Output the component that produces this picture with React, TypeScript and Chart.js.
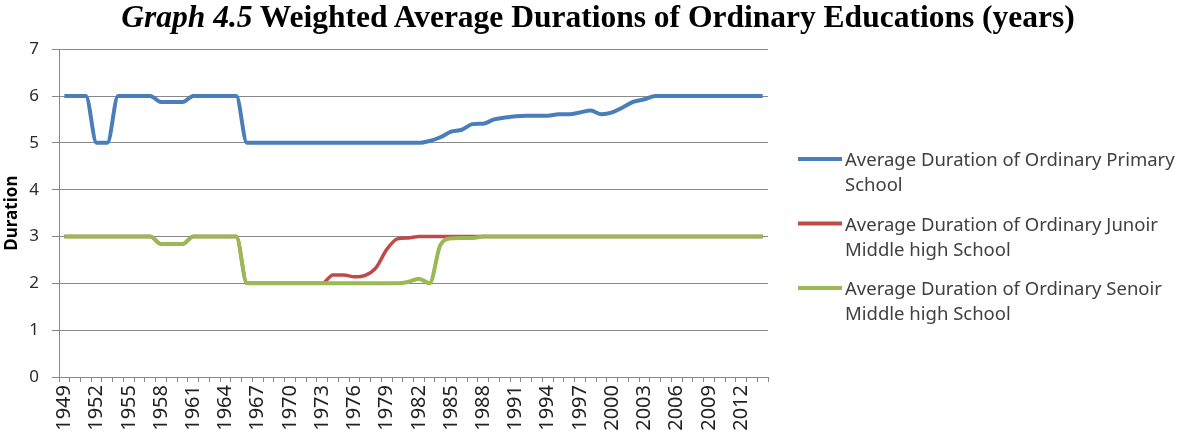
import React, { useEffect, useRef } from "react";
import { Chart, registerables } from "chart.js";

Chart.register(...registerables);

const years: string[] = [
  "1949","1950","1951","1952","1953","1954","1955","1956","1957","1958",
  "1959","1960","1961","1962","1963","1964","1965","1966","1967","1968",
  "1969","1970","1971","1972","1973","1974","1975","1976","1977","1978",
  "1979","1980","1981","1982","1983","1984","1985","1986","1987","1988",
  "1989","1990","1991","1992","1993","1994","1995","1996","1997","1998",
  "1999","2000","2001","2002","2003","2004","2005","2006","2007","2008",
  "2009","2010","2011","2012","2013","2014",
];

const primary: number[] = [
  6, 6, 6, 5, 5, 6, 6, 6, 6, 5.87,
  5.87, 5.87, 6, 6, 6, 6, 6, 5, 5, 5,
  5, 5, 5, 5, 5, 5, 5, 5, 5, 5,
  5, 5, 5, 5, 5.04, 5.12, 5.24, 5.28, 5.4, 5.41,
  5.5, 5.54, 5.57, 5.58, 5.58, 5.58, 5.61, 5.61, 5.65, 5.69,
  5.61, 5.65, 5.76, 5.88, 5.93, 6, 6, 6, 6, 6,
  6, 6, 6, 6, 6, 6,
];

const junior: number[] = [
  3, 3, 3, 3, 3, 3, 3, 3, 3, 2.84,
  2.84, 2.84, 3, 3, 3, 3, 3, 2, 2, 2,
  2, 2, 2, 2, 2, 2.18, 2.18, 2.14, 2.17, 2.33,
  2.72, 2.95, 2.97, 3, 3, 3, 3, 3, 3, 3,
  3, 3, 3, 3, 3, 3, 3, 3, 3, 3,
  3, 3, 3, 3, 3, 3, 3, 3, 3, 3,
  3, 3, 3, 3, 3, 3,
];

const senior: number[] = [
  3, 3, 3, 3, 3, 3, 3, 3, 3, 2.84,
  2.84, 2.84, 3, 3, 3, 3, 3, 2, 2, 2,
  2, 2, 2, 2, 2, 2, 2, 2, 2, 2,
  2, 2, 2.03, 2.1, 2.0, 2.82, 2.96, 2.97, 2.97, 3,
  3, 3, 3, 3, 3, 3, 3, 3, 3, 3,
  3, 3, 3, 3, 3, 3, 3, 3, 3, 3,
  3, 3, 3, 3, 3, 3,
];

const seriesLabels: string[][] = [
  ["Average Duration of Ordinary Primary", "School"],
  ["Average Duration of Ordinary Junoir", "Middle high School"],
  ["Average Duration of Ordinary Senoir", "Middle high School"],
];

const seriesColors: string[] = ["#4A7EBB", "#BE4B48", "#98B954"];

const yTicks: number[] = [0, 1, 2, 3, 4, 5, 6, 7];

const TITLE_H = 34;
const CANVAS_TOP = 26;

const legendPlugin = {
  id: "customLegend",
  afterDraw(chart: any) {
    const ctx = chart.ctx;
    const x0 = 798;
    const x1 = 842;
    const tx = 845;
    const firstTop = 161 - CANVAS_TOP;
    const itemGap = 64.5;
    const lineGap = 25;
    ctx.save();
    chart.data.datasets.forEach((ds: any, i: number) => {
      const y = firstTop + i * itemGap;
      ctx.strokeStyle = ds.borderColor;
      ctx.lineWidth = 4;
      ctx.beginPath();
      ctx.moveTo(x0, y - 2);
      ctx.lineTo(x1, y - 2);
      ctx.stroke();
      ctx.fillStyle = "#404040";
      ctx.font = "18.5px 'Noto Sans'";
      ctx.textAlign = "left";
      ctx.textBaseline = "middle";
      const lines: string[] = ds.legendLines;
      lines.forEach((t: string, k: number) => {
        ctx.fillText(t, tx, y + k * lineGap);
      });
    });
    ctx.restore();
  },
};

export default function App() {
  const ref = useRef<HTMLCanvasElement | null>(null);

  useEffect(() => {
    document.body.style.margin = "0";
    const canvas = ref.current;
    if (!canvas) return;
    const mk = (label: string[], data: number[], color: string, width: number, order: number) => ({
      label: label.join(" "),
      legendLines: label,
      data,
      borderColor: color,
      backgroundColor: color,
      borderWidth: width,
      pointRadius: 0,
      pointHoverRadius: 0,
      cubicInterpolationMode: "monotone" as const,
      fill: false,
      order,
    });
    const chart = new Chart(canvas, {
      type: "line",
      data: {
        labels: years,
        datasets: [
          mk(seriesLabels[0], primary, seriesColors[0], 4, 0),
          mk(seriesLabels[1], junior, seriesColors[1], 3.5, 2),
          mk(seriesLabels[2], senior, seriesColors[2], 4, 1),
        ] as any,
      },
      options: {
        responsive: false,
        animation: false,
        devicePixelRatio: 1,
        layout: { padding: { top: 0, right: 410, bottom: 0, left: 0 } },
        plugins: {
          legend: { display: false },
          tooltip: { enabled: false },
          title: { display: false },
        },
        scales: {
          x: {
            type: "category",
            offset: true,
            grid: {
              offset: true,
              drawOnChartArea: false,
              drawTicks: true,
              tickLength: 5,
              color: "#888888",
            },
            border: { color: "#888888", width: 1 },
            ticks: {
              autoSkip: false,
              maxRotation: 90,
              minRotation: 90,
              padding: 3,
              color: "#222222",
              font: { family: "'Noto Sans'", size: 20 },
              callback: function (this: any, _v: any, idx: number) {
                const y = parseInt(years[idx], 10);
                return (y - 1949) % 3 === 0 ? years[idx] : "";
              },
            },
            afterFit(scale: any) {
              scale.height = 62;
            },
          },
          y: {
            min: 0,
            max: 7,
            afterBuildTicks(scale: any) {
              scale.ticks = yTicks.map((v) => ({ value: v }));
            },
            grid: {
              color: "#888888",
              tickLength: 7,
            },
            border: { color: "#888888", width: 1 },
            ticks: {
              padding: 13,
              color: "#2a2a2a",
              font: { family: "'Noto Sans'", size: 17 },
            },
            title: {
              display: true,
              text: "Duration",
              color: "#000000",
              font: { family: "'Noto Sans'", size: 17, weight: "bold" },
              padding: { top: 2, bottom: 0 },
            },
            afterFit(scale: any) {
              scale.width = 59;
            },
          },
        },
      },
      plugins: [legendPlugin],
    });
    return () => chart.destroy();
  }, []);

  return (
    <div style={{ width: 1178, height: 439, background: "#ffffff", position: "relative", overflow: "hidden" }}>
      <canvas
        ref={ref}
        width={1178}
        height={439 - CANVAS_TOP}
        style={{ display: "block", position: "absolute", left: 0, top: CANVAS_TOP }}
      />
      <div
        style={{
          position: "absolute",
          left: 0,
          top: 0,
          width: 1178,
          height: TITLE_H,
          lineHeight: TITLE_H + "px",
          textAlign: "center",
          fontFamily: "'Liberation Serif', 'Times New Roman', serif",
          fontWeight: "bold",
          fontSize: 31.5,
          color: "#000000",
          paddingLeft: 18,
          boxSizing: "border-box",
          whiteSpace: "nowrap",
        }}
      >
        <i>Graph 4.5</i> Weighted Average Durations of Ordinary Educations (years)
      </div>
    </div>
  );
}
